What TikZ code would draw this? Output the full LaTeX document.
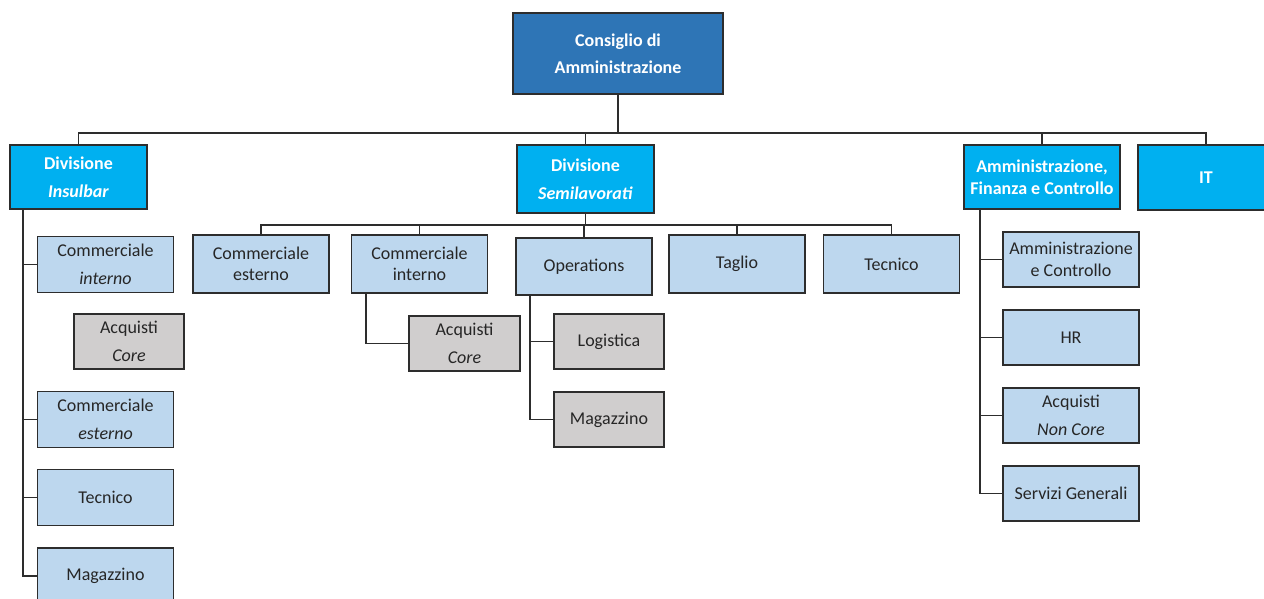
\documentclass[tikz,border=0pt]{standalone}
\usepackage{fontspec}
\setmainfont{Carlito}
\usepackage{tikz}
\usetikzlibrary{
    positioning,           % Relative positioning
    calc                   % Coordinate calculations
}
\definecolor{BoardBlue}{RGB}{46,117,182}
\definecolor{DivisionBlue}{RGB}{0,176,240}
\definecolor{OfficeBlue}{RGB}{189,215,238}
\definecolor{SharedGray}{RGB}{208,206,206}
\definecolor{EdgeGray}{RGB}{45,45,45}
\tikzset{org box/.style={
    rectangle,
    draw=EdgeGray,
    line width=1.3pt,
    align=center,
    inner sep=0pt,
    text=black!85,
    font=\fontsize{18}{21.5}\selectfont
}}
\tikzset{board box/.style={
    org box,
    fill=BoardBlue,
    text=white,
    minimum width=210pt,
    minimum height=81pt,
    font=\fontsize{18}{21.5}\selectfont\bfseries
}}
\tikzset{division box/.style={
    org box,
    fill=DivisionBlue,
    text=white,
    minimum width=137pt,
    minimum height=64pt,
    font=\fontsize{18}{21.5}\selectfont\bfseries
}}
\tikzset{office box/.style={
    org box,
    fill=OfficeBlue,
    minimum width=136pt,
    minimum height=56pt
}}
\tikzset{shared office box/.style={
    org box,
    fill=SharedGray,
    minimum width=110pt,
    minimum height=55pt
}}
\tikzset{org link/.style={
    draw=EdgeGray,
    line width=1.2pt
}}

\begin{document}
\begin{tikzpicture}[x=1pt,y=1pt]
    \useasboundingbox (0,0) rectangle (1264,-598);

    \node[board box] (cda) at (618,-53.5) {Consiglio di\\[6pt]Amministrazione};

    \node[division box] (ins) at (78.5,-177) {Divisione\\[6pt]\textit{Insulbar}};
    \node[division box, minimum height=68pt] (sem) at (585.5,-179) {Divisione\\[6pt]\textit{Semilavorati}};
    \node[division box, minimum width=156pt] (afc) at (1042,-177) {Amministrazione,\\Finanza e Controllo};
    \node[division box, minimum width=136pt, minimum height=65pt] (it) at (1206,-177.5) {IT};

    \node[office box] (insci) at (105.5,-264.5) {Commerciale\\[6pt]\textit{interno}};
    \node[shared office box] (insacq) at (129,-341.5) {Acquisti\\[6pt]\textit{Core}};
    \node[office box] (insce) at (105.5,-419.5) {Commerciale\\[6pt]\textit{esterno}};
    \node[office box] (inste) at (105.5,-497.5) {Tecnico};
    \node[office box] (insma) at (105.5,-576) {Magazzino};

    \node[office box, minimum height=58pt] (semce) at (261,-264) {Commerciale\\esterno};
    \node[office box, minimum height=58pt] (semci) at (419.5,-264) {Commerciale\\interno};
    \node[office box, minimum height=57pt] (semop) at (584,-266.5) {Operations};
    \node[office box, minimum height=58pt] (semta) at (737,-264) {Taglio};
    \node[office box, minimum height=58pt] (semte) at (891.5,-264) {Tecnico};
    \node[shared office box, minimum width=111pt] (semacq) at (464.5,-343.5) {Acquisti\\[6pt]\textit{Core}};
    \node[shared office box] (semlog) at (609,-341.5) {Logistica};
    \node[shared office box] (semmag) at (609,-419.5) {Magazzino};

    \node[office box, minimum height=55pt] (afcac) at (1071,-259.5) {Amministrazione\\e Controllo};
    \node[office box, minimum height=55pt] (afchr) at (1071,-337.5) {HR};
    \node[office box, minimum height=55pt] (afcan) at (1071,-415.5) {Acquisti\\[6pt]\textit{Non Core}};
    \node[office box, minimum height=55pt] (afcsg) at (1071,-493.5) {Servizi Generali};

    \coordinate (bus) at (0,-133);
    \coordinate (subbus) at (0,-225);
    \coordinate (insspine) at (23,0);
    \coordinate (cispine) at (366,0);
    \coordinate (opspine) at (530,0);
    \coordinate (afcspine) at (980,0);

    \draw[org link] (cda.south) -- (cda.south |- bus);
    \draw[org link] (ins.north) -- (ins.north |- bus) -| (it.north);
    \foreach \n in {sem,afc}
        \draw[org link] (\n.north) -- (\n.north |- bus);

    \draw[org link] (ins.south -| insspine) |- (insma.west);
    \foreach \n in {insci,insce,inste}
        \draw[org link] (\n.west) -- (\n.west -| insspine);

    \draw[org link] (sem.south) -- (sem.south |- subbus);
    \draw[org link] (semce.north) -- (semce.north |- subbus) -| (semte.north);
    \foreach \n in {semci,semop,semta}
        \draw[org link] (\n.north) -- (\n.north |- subbus);
    \draw[org link] (semci.south -| cispine) |- (semacq.west);
    \draw[org link] (semop.south -| opspine) |- (semmag.west);
    \draw[org link] (semlog.west) -- (semlog.west -| opspine);

    \draw[org link] (afc.south -| afcspine) |- (afcsg.west);
    \foreach \n in {afcac,afchr,afcan}
        \draw[org link] (\n.west) -- (\n.west -| afcspine);
\end{tikzpicture}
\end{document}
